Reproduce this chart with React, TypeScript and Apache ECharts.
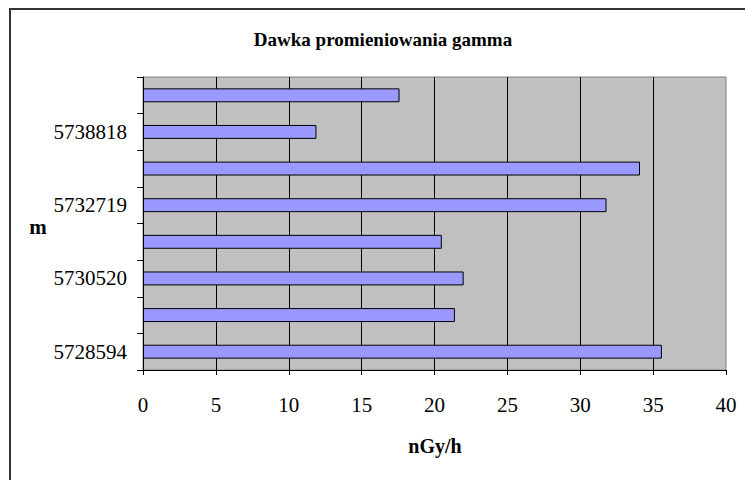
import React, { useEffect, useRef } from "react";
import * as echarts from "echarts";

// bottom to top
const categories = ["5728594", "5729570", "5730520", "5731640", "5732719", "5735780", "5738818", "5740900"];
const doseValues = [35.6, 21.4, 22.0, 20.5, 31.8, 34.1, 11.9, 17.6];
const xTicks = { min: 0, max: 40, interval: 5 };
const titleText = "Dawka promieniowania gamma";
const xName = "nGy/h";
const yName = "m";

const FONT = "'Liberation Serif', 'Times New Roman', serif";

export default function App() {
  const ref = useRef<HTMLDivElement>(null);
  useEffect(() => {
    if (!ref.current) return;
    const chart = echarts.init(ref.current, undefined, { renderer: "svg" });
    chart.setOption({
      animation: false,
      backgroundColor: "#ffffff",
      grid: {
        left: 143,
        right: 19,
        top: 77,
        bottom: 110,
        show: true,
        backgroundColor: "#c0c0c0",
        borderColor: "#808080",
        borderWidth: 1,
      },
      xAxis: {
        type: "value",
        min: xTicks.min,
        max: xTicks.max,
        interval: xTicks.interval,
        axisLine: { show: true, lineStyle: { color: "#000", width: 1 } },
        axisTick: { show: true, length: 5, lineStyle: { color: "#000" } },
        axisLabel: { color: "#000", fontFamily: FONT, fontSize: 21, margin: 24 },
        splitLine: { show: true, showMaxLine: false, lineStyle: { color: "#000", width: 1 } },
      },
      yAxis: {
        type: "category",
        data: categories,
        axisLine: { show: true, lineStyle: { color: "#000", width: 1 } },
        axisTick: { show: true, interval: 0, length: 6, lineStyle: { color: "#000" } },
        axisLabel: { interval: 1, color: "#000", fontFamily: FONT, fontSize: 21, margin: 16 },
        splitLine: { show: false },
      },
      series: [
        {
          type: "bar",
          data: doseValues,
          barWidth: "38%",
          itemStyle: { color: "#9999ff", borderColor: "#000", borderWidth: 1 },
        },
      ],
      graphic: [
        {
          type: "rect",
          shape: { x: 10, y: 9, width: 2000, height: 2000 },
          style: { fill: "none", stroke: "#333", lineWidth: 2 },
          silent: true,
        },
        {
          type: "text",
          x: 383,
          y: 39,
          style: {
            text: titleText,
            fontFamily: FONT,
            fontWeight: "bold",
            fontSize: 19,
            fill: "#000",
            textAlign: "center",
            textVerticalAlign: "middle",
          },
        },
        {
          type: "text",
          x: 435,
          y: 446,
          style: {
            text: xName,
            fontFamily: FONT,
            fontWeight: "bold",
            fontSize: 20,
            fill: "#000",
            textAlign: "center",
            textVerticalAlign: "middle",
          },
        },
        {
          type: "text",
          x: 38,
          y: 227,
          style: {
            text: yName,
            fontFamily: FONT,
            fontWeight: "bold",
            fontSize: 21,
            fill: "#000",
            textAlign: "center",
            textVerticalAlign: "middle",
          },
        },
      ],
    });
    return () => chart.dispose();
  }, []);
  return (
    <div
      ref={ref}
      style={{ position: "fixed", left: 0, top: 0, width: 745, height: 480 }}
    />
  );
}
